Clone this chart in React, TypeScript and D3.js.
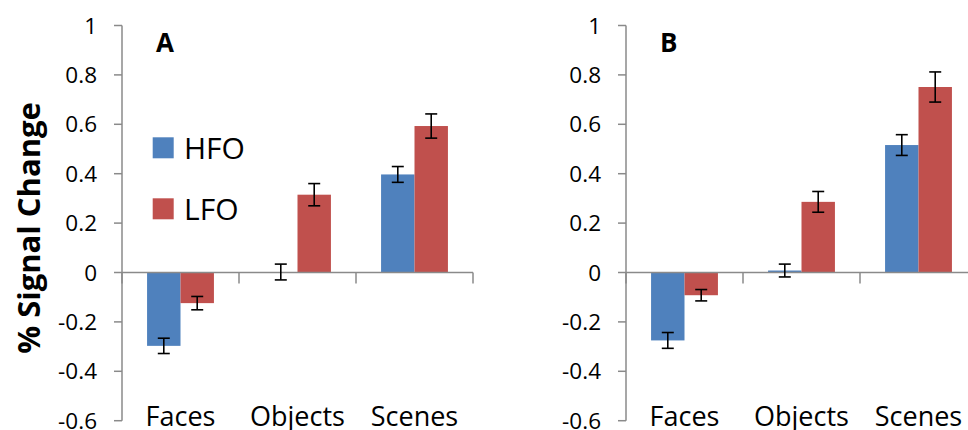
import * as d3 from 'd3';

// ── Data ────────────────────────────────────────────────────────────────
const categories = ['Faces', 'Objects', 'Scenes'];
const seriesNames = ['HFO', 'LFO'];
const seriesColors = ['#4F81BD', '#C0504D'];

const hfoA = [-0.297, 0.002, 0.397];
const lfoA = [-0.124, 0.315, 0.593];
const hfoErrA = [0.031, 0.032, 0.032];
const lfoErrA = [0.027, 0.045, 0.049];

const hfoB = [-0.275, 0.008, 0.516];
const lfoB = [-0.092, 0.286, 0.751];
const hfoErrB = [0.032, 0.026, 0.042];
const lfoErrB = [0.023, 0.042, 0.061];

const yTicks = [1, 0.8, 0.6, 0.4, 0.2, 0, -0.2, -0.4, -0.6];
const yTickLabels = ['1', '0.8', '0.6', '0.4', '0.2', '0', '-0.2', '-0.4', '-0.6'];

const W = 968, H = 430;
const FONT = '"Open Sans", "Liberation Sans", sans-serif';
const AXIS = '#8a8a8a';

const y = d3.scaleLinear().domain([-0.6, 1]).range([420.7, 25.5]);

type PanelProps = {
  x0: number;
  label: string;
  values: number[][];
  errs: number[][];
};

function Panel({ x0, label, values, errs }: PanelProps) {
  const catW = 117;
  const x = d3.scaleBand<string>().domain(categories).range([x0, x0 + catW * categories.length]).paddingInner(0).paddingOuter(0);
  const xs = d3.scaleBand<string>().domain(seriesNames).range([0, x.bandwidth()]).paddingInner(0).paddingOuter(0.75);
  const bounds = [...categories.map(c => x(c) as number), x0 + catW * categories.length];

  return (
    <g>
      {/* y axis */}
      <line x1={x0} x2={x0} y1={y(1)} y2={y(-0.6)} stroke={AXIS} strokeWidth={1.5} />
      {yTicks.map((t, i) => (
        <g key={t}>
          <line x1={x0 - 8} x2={x0} y1={y(t)} y2={y(t)} stroke={AXIS} strokeWidth={1.5} />
          <text x={x0 - 25} y={y(t)} dy="0.36em" textAnchor="end" fontSize={22.5} fontFamily={FONT} fill="#000">
            {yTickLabels[i]}
          </text>
        </g>
      ))}

      {/* bars */}
      {categories.map((c, ci) =>
        seriesNames.map((s, si) => {
          const v = values[si][ci];
          const bx = (x(c) as number) + (xs(s) as number);
          return (
            <rect key={c + s} x={bx} width={xs.bandwidth()}
              y={Math.min(y(v), y(0))} height={Math.abs(y(v) - y(0))}
              fill={seriesColors[si]} />
          );
        })
      )}

      {/* zero line + category ticks */}
      <line x1={x0} x2={bounds[bounds.length - 1]} y1={y(0)} y2={y(0)} stroke={AXIS} strokeWidth={1.5} />
      {bounds.map(b => (
        <line key={b} x1={b} x2={b} y1={y(0)} y2={y(0) + 11} stroke={AXIS} strokeWidth={1.5} />
      ))}

      {/* error bars */}
      {categories.map((c, ci) =>
        seriesNames.map((s, si) => {
          const v = values[si][ci];
          const e = errs[si][ci];
          const cx = (x(c) as number) + (xs(s) as number) + xs.bandwidth() / 2;
          return (
            <g key={'e' + c + s} stroke="#000" strokeWidth={1.6}>
              <line x1={cx} x2={cx} y1={y(v + e)} y2={y(v - e)} />
              <line x1={cx - 6} x2={cx + 6} y1={y(v + e)} y2={y(v + e)} />
              <line x1={cx - 6} x2={cx + 6} y1={y(v - e)} y2={y(v - e)} />
            </g>
          );
        })
      )}

      {/* category labels */}
      {categories.map(c => (
        <text key={'l' + c} x={(x(c) as number) + x.bandwidth() / 2} y={426} textAnchor="middle"
          fontSize={27} fontFamily={FONT} fill="#000">{c}</text>
      ))}

      <text x={x0 + 34} y={51.5} fontSize={26} fontWeight="bold" fontFamily={FONT} fill="#000">{label}</text>
    </g>
  );
}

export default function App() {
  return (
    <svg width={W} height={H} viewBox={`0 0 ${W} ${H}`}
      style={{ position: 'absolute', left: 0, top: 0, background: '#fff', display: 'block' }}>
      <rect width={W} height={H} fill="#fff" />
      <text transform="translate(40,228) rotate(-90)" textAnchor="middle" fontSize={31} fontWeight="bold"
        fontFamily={FONT} fill="#000">% Signal Change</text>

      <Panel x0={122} label="A" values={[hfoA, lfoA]} errs={[hfoErrA, lfoErrA]} />
      <Panel x0={626} label="B" values={[hfoB, lfoB]} errs={[hfoErrB, lfoErrB]} />

      {/* legend */}
      {seriesNames.map((s, i) => (
        <g key={s}>
          <rect x={152.7} y={137.3 + i * 61} width={21} height={21} fill={seriesColors[i]} />
          <text x={184} y={158.7 + i * 61} fontSize={30} fontFamily={FONT} fill="#000">{s}</text>
        </g>
      ))}
    </svg>
  );
}
